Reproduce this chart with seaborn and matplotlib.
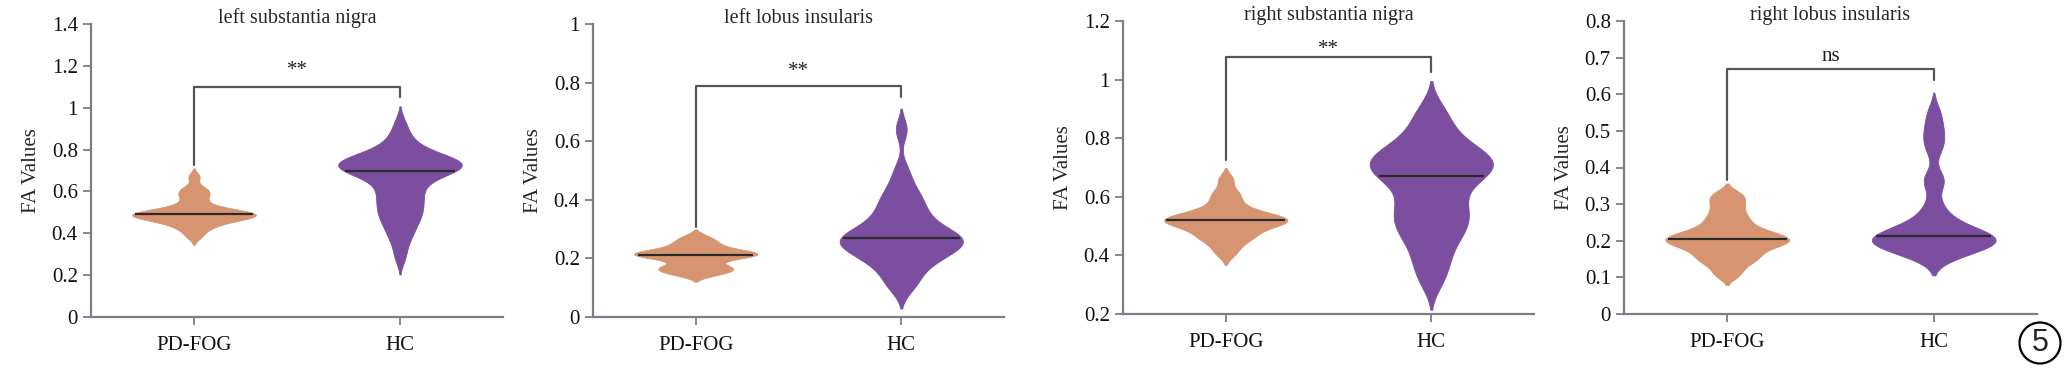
import numpy as np
import pandas as pd
import matplotlib
matplotlib.use("Agg")
import matplotlib.pyplot as plt
import seaborn as sns

# ---------------------------------------------------------
# data (FA values per subject)
# ---------------------------------------------------------
GROUPS = ["PD-FOG", "HC"]
COLORS = ["#D69570", "#7C4E9F"]
TITLES = ["left substantia nigra", "left lobus insularis",
          "right substantia nigra", "right lobus insularis"]

PD_LSN = [0.385, 0.41, 0.43, 0.44, 0.45, 0.46, 0.465, 0.47, 0.475, 0.48, 0.48,
          0.485, 0.49, 0.49, 0.495, 0.50, 0.50, 0.505, 0.51, 0.52, 0.53, 0.55, 0.57,
          0.59, 0.60, 0.62, 0.67]
HC_LSN = [0.29, 0.36, 0.40, 0.43, 0.46, 0.48, 0.50, 0.52, 0.54, 0.56, 0.58, 0.60,
          0.62, 0.64, 0.66, 0.68, 0.69, 0.70, 0.70, 0.71, 0.72, 0.72, 0.725, 0.73,
          0.735, 0.74, 0.745, 0.75, 0.76, 0.77, 0.78, 0.80, 0.83, 0.86, 0.92]

PD_LLI = [0.145, 0.15, 0.16, 0.165, 0.17, 0.175, 0.19, 0.20, 0.205, 0.21, 0.21,
          0.215, 0.22, 0.22, 0.225, 0.23, 0.24, 0.25, 0.26, 0.275]
HC_LLI = [0.10, 0.12, 0.15, 0.17, 0.19, 0.20, 0.21, 0.22, 0.23, 0.24, 0.245,
          0.25, 0.26, 0.265, 0.27, 0.27, 0.28, 0.29, 0.30, 0.31, 0.33, 0.34, 0.36,
          0.38, 0.40, 0.42, 0.45, 0.50, 0.64]

PD_RSN = [0.405, 0.43, 0.45, 0.46, 0.47, 0.48, 0.49, 0.50, 0.505, 0.51, 0.515,
          0.52, 0.52, 0.525, 0.53, 0.535, 0.54, 0.55, 0.56, 0.58, 0.60, 0.62, 0.66]
HC_RSN = [0.31, 0.36, 0.40, 0.44, 0.47, 0.49, 0.51, 0.53, 0.55, 0.57, 0.59, 0.62,
          0.65, 0.67, 0.67, 0.69, 0.70, 0.71, 0.72, 0.73, 0.74, 0.75, 0.77, 0.79,
          0.82, 0.86, 0.90]

PD_RLI = [0.107, 0.13, 0.145, 0.155, 0.165, 0.175, 0.185, 0.19, 0.195, 0.20,
          0.205, 0.21, 0.215, 0.22, 0.23, 0.24, 0.255, 0.27, 0.29, 0.31, 0.328]
HC_RLI = [0.16, 0.165, 0.175, 0.18, 0.185, 0.19, 0.195, 0.20, 0.205,
          0.21, 0.21, 0.208, 0.212, 0.22, 0.23, 0.24, 0.25, 0.27, 0.30, 0.36, 0.37,
          0.45, 0.48, 0.51, 0.55]

PANEL_DATA = [(PD_LSN, HC_LSN), (PD_LLI, HC_LLI), (PD_RSN, HC_RSN), (PD_RLI, HC_RLI)]

YLIMS = [(0, 1.4), (0, 1.0), (0.2, 1.2), (0, 0.8)]
YSTEPS = [0.2, 0.2, 0.2, 0.1]

# significance brackets: label, bracket height, left end, right end, label height
SIG_LABELS = ["**", "**", "**", "ns"]
SIG_Y = [1.10, 0.79, 1.077, 0.669]
SIG_LEFT = [0.726, 0.307, 0.725, 0.366]
SIG_RIGHT = [1.05, 0.75, 1.027, 0.64]
SIG_TEXT_Y = [1.133, 0.805, 1.07, 0.678]

BW = [0.6, 0.6, 0.6, 0.45]

# axes rectangles in pixels (left, right, top, bottom) of a 2070x377 figure
W, H = 2070, 377
AX_PX = [(91, 503, 24, 317), (593, 1004, 24, 317),
         (1123, 1534, 21, 314), (1624, 2037, 21, 314)]

AXIS_GREY = "#7a7f87"
SERIF = ["Liberation Serif", "DejaVu Serif"]


def median_span(poly, y):
    # x range where the violin outline crosses height y
    xs = []
    for path in poly.get_paths():
        v = path.vertices
        for (x0, y0), (x1, y1) in zip(v[:-1], v[1:]):
            if (y0 - y) * (y1 - y) <= 0 and y0 != y1:
                xs.append(x0 + (y - y0) * (x1 - x0) / (y1 - y0))
    return min(xs), max(xs)


def draw_panel(fig, i):
    l, r, t, b = AX_PX[i]
    ax = fig.add_axes([l / W, (H - b) / H, (r - l) / W, (b - t) / H])

    pd_vals, hc_vals = PANEL_DATA[i]
    df = pd.DataFrame({
        "group": [GROUPS[0]] * len(pd_vals) + [GROUPS[1]] * len(hc_vals),
        "FA": list(pd_vals) + list(hc_vals),
    })
    sns.violinplot(data=df, x="group", y="FA", hue="group", order=GROUPS,
                   hue_order=GROUPS, palette=COLORS, inner=None, cut=2,
                   width=0.6, density_norm="width", bw_adjust=BW[i],
                   saturation=1, linewidth=0.6, legend=False, ax=ax)

    polys = [c for c in ax.collections][:2]
    for k, poly in enumerate(polys):
        poly.set_edgecolor(COLORS[k])
        vals = PANEL_DATA[i][k]
        m = float(np.median(vals))
        x0, x1 = median_span(poly, m)
        ax.plot([x0 + 0.01, x1 - 0.01], [m, m], color="#2b2b2b", lw=1.6,
                solid_capstyle="butt", zorder=3)

    # bracket
    ax.plot([0, 0, 1, 1], [SIG_LEFT[i], SIG_Y[i], SIG_Y[i], SIG_RIGHT[i]],
            color="#555555", lw=1.6, zorder=3)
    ax.text(0.5, SIG_TEXT_Y[i], SIG_LABELS[i], ha="center", va="bottom",
            fontsize=15, family=SERIF, color="#222222")

    lo, hi = YLIMS[i]
    ax.set_ylim(lo, hi)
    ax.set_xlim(-0.5, 1.5)
    ticks = np.round(np.arange(lo, hi + 1e-9, YSTEPS[i]), 2)
    ax.set_yticks(ticks)
    ax.set_yticklabels([f"{v:g}" for v in ticks])
    ax.set_xticks([0, 1])
    ax.set_xticklabels(GROUPS)
    ax.set_xlabel("")
    ax.set_ylabel("FA Values", fontsize=15, family=SERIF, labelpad=8)
    ax.set_title(TITLES[i], fontsize=14.5, family=SERIF, pad=4, y=0.985)

    for side in ["top", "right"]:
        ax.spines[side].set_visible(False)
    for side in ["left", "bottom"]:
        ax.spines[side].set_color(AXIS_GREY)
        ax.spines[side].set_linewidth(1.6)
    ax.tick_params(axis="both", direction="out", length=6, width=1.3,
                   color=AXIS_GREY, labelsize=15, labelcolor="#111111")
    ax.tick_params(axis="x", pad=8)
    for lab in ax.get_xticklabels() + ax.get_yticklabels():
        lab.set_family(SERIF)
    return ax


sns.set_style("ticks")
plt.rcParams["font.family"] = SERIF

fig = plt.figure(figsize=(W / 100, H / 100), dpi=100)
for i in range(4):
    draw_panel(fig, i)

fig.text(2040 / W, 1 - 343 / H, "5", ha="center", va="center", fontsize=22,
         family=["Liberation Sans", "DejaVu Sans"],
         bbox=dict(boxstyle="circle,pad=0.18", fc="white", ec="black", lw=1.6))

fig.savefig("out.png", dpi=100)
